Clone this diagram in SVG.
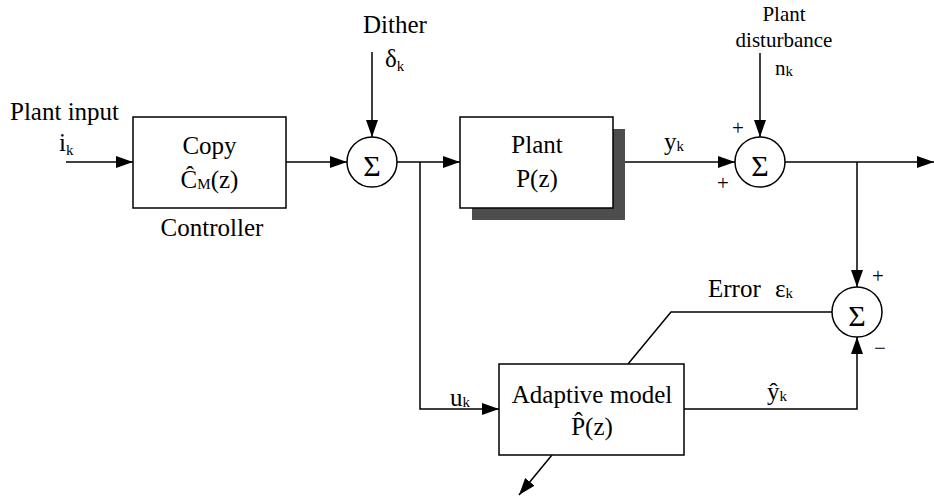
<svg xmlns="http://www.w3.org/2000/svg" width="934" height="497" viewBox="0 0 934 497" font-family="Liberation Serif, Times New Roman, serif">
<style>
.t{font-size:25px}
.s{font-size:21px}
.m{text-anchor:middle}
.sub{font-size:15px}
.sig{font-size:30px;text-anchor:middle}
.box{fill:#fff;stroke:#000;stroke-width:1.5}
.c{fill:#fff;stroke:#000;stroke-width:1.5}
.ln{fill:none;stroke:#000;stroke-width:1.5}
</style>
<defs>
<marker id="ar" markerUnits="userSpaceOnUse" markerWidth="17" markerHeight="12" refX="17" refY="6" orient="auto">
<path d="M0,0 L17,6 L0,12 z" fill="#000"/>
</marker>
</defs>
<rect width="934" height="497" fill="#fff"/>
<g id="connectors">
<path class="ln" d="M66,162 H133" marker-end="url(#ar)"/>
<path class="ln" d="M286,162 H347" marker-end="url(#ar)"/>
<path class="ln" d="M372,52 V137" marker-end="url(#ar)"/>
<path class="ln" d="M397,162 H460" marker-end="url(#ar)"/>
<path class="ln" d="M420,162 V409 H499" marker-end="url(#ar)"/>
<path class="ln" d="M613,162 H735" marker-end="url(#ar)"/>
<path class="ln" d="M760,53 V137" marker-end="url(#ar)"/>
<path class="ln" d="M785,162 H934" marker-end="url(#ar)"/>
<path class="ln" d="M857,162 V287" marker-end="url(#ar)"/>
<path class="ln" d="M684,409 H857 V337" marker-end="url(#ar)"/>
<path class="ln" d="M832,312 H671 L628,364"/>
<path class="ln" d="M552,455 L519,495" marker-end="url(#ar)"/>
</g>
<g id="labels">
<text class="t" x="10" y="120">Plant input</text>
<text class="t" x="59" y="151">i<tspan class="sub" dy="4">k</tspan></text>
<text class="t" x="363" y="33">Dither</text>
<text class="t" x="385" y="67">δ<tspan class="sub" dy="4">k</tspan></text>
<text class="t" x="664" y="150">y<tspan class="sub" dy="1">k</tspan></text>
<text class="s m" x="784" y="21">Plant</text>
<text class="s m" x="784" y="47">disturbance</text>
<text class="s" x="775" y="75">n<tspan class="sub" dy="1">k</tspan></text>
<text class="s m" x="738" y="135">+</text>
<text class="s m" x="723" y="190">+</text>
<text class="s m" x="878" y="283">+</text>
<text class="s m" x="880" y="355">−</text>
<text class="t" x="708" y="297">Error <tspan dx="8">ε</tspan><tspan class="sub" dy="1">k</tspan></text>
<text class="t" x="450" y="406">u<tspan class="sub" dy="1">k</tspan></text>
<text class="t" x="767" y="400">ŷ<tspan class="sub" dy="1">k</tspan></text>
</g>
<g id="controller">
<rect class="box" x="133" y="117" width="153" height="91"/>
<text class="t m" x="209.5" y="154">Copy</text>
<text class="t m" x="209.5" y="188">Ĉ<tspan class="sub" dy="1">M</tspan><tspan dy="-1">(z)</tspan></text>
<text class="t m" x="212" y="236">Controller</text>
</g>
<g id="sum1">
<circle class="c" cx="372" cy="162" r="25"/>
<text class="sig" x="372" y="176">Σ</text>
</g>
<g id="plant">
<rect x="472" y="129" width="153" height="91" fill="#4d4d4d"/>
<rect class="box" x="460" y="117" width="153" height="91"/>
<text class="t m" x="537" y="153">Plant</text>
<text class="t m" x="537" y="187">P(z)</text>
</g>
<g id="sum2">
<circle class="c" cx="760" cy="162" r="25"/>
<text class="sig" x="760" y="176">Σ</text>
</g>
<g id="sum3">
<circle class="c" cx="857" cy="312" r="25"/>
<text class="sig" x="857" y="326">Σ</text>
</g>
<g id="adaptive">
<rect class="box" x="499" y="364" width="185" height="91"/>
<text class="t m" x="592" y="403">Adaptive model</text>
<text class="t m" x="592" y="435">P̂(z)</text>
</g>
</svg>
